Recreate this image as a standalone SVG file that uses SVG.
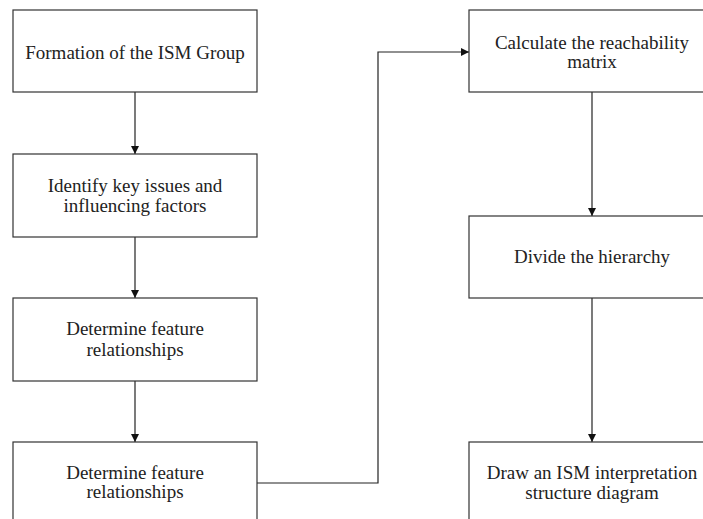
<svg xmlns="http://www.w3.org/2000/svg" width="703" height="519" viewBox="0 0 703 519">
<style>
.box{fill:#fff;stroke:#333;stroke-width:1.2}
.t{font-family:"Liberation Serif",serif;font-size:19px;fill:#222;text-anchor:middle}
.c{fill:none;stroke:#222;stroke-width:1.2}
</style>
<defs>
<marker id="ah" markerWidth="8" markerHeight="8" refX="8" refY="4" orient="auto" markerUnits="userSpaceOnUse">
<path d="M0,0 L8,4 L0,8 Z" fill="#111"/>
</marker>
</defs>
<rect width="703" height="519" fill="#fff"/>
<g id="connectors">
<line class="c" x1="135" y1="92" x2="135" y2="154" marker-end="url(#ah)"/>
<line class="c" x1="135" y1="237" x2="135" y2="298" marker-end="url(#ah)"/>
<line class="c" x1="135" y1="381" x2="135" y2="442" marker-end="url(#ah)"/>
<polyline class="c" points="257,483 378,483 378,52 469,52" marker-end="url(#ah)"/>
<line class="c" x1="592" y1="92" x2="592" y2="216" marker-end="url(#ah)"/>
<line class="c" x1="592" y1="298" x2="592" y2="442" marker-end="url(#ah)"/>
</g>
<g id="n1"><rect class="box" x="13" y="10" width="244" height="82"/><text class="t" x="135" y="59">Formation of the ISM Group</text></g>
<g id="n2"><rect class="box" x="13" y="154" width="244" height="83"/><text class="t" x="135" y="192">Identify key issues and</text><text class="t" x="135" y="212">influencing factors</text></g>
<g id="n3"><rect class="box" x="13" y="298" width="244" height="83"/><text class="t" x="135" y="335">Determine feature</text><text class="t" x="135" y="356">relationships</text></g>
<g id="n4"><rect class="box" x="13" y="442" width="244" height="90"/><text class="t" x="135" y="479">Determine feature</text><text class="t" x="135" y="498">relationships</text></g>
<g id="n5"><rect class="box" x="469" y="10" width="246" height="82"/><text class="t" x="592" y="49">Calculate the reachability</text><text class="t" x="592" y="68">matrix</text></g>
<g id="n6"><rect class="box" x="469" y="216" width="246" height="82"/><text class="t" x="592" y="263">Divide the hierarchy</text></g>
<g id="n7"><rect class="box" x="469" y="442" width="246" height="90"/><text class="t" x="592" y="479">Draw an ISM interpretation</text><text class="t" x="592" y="499">structure diagram</text></g>
</svg>
